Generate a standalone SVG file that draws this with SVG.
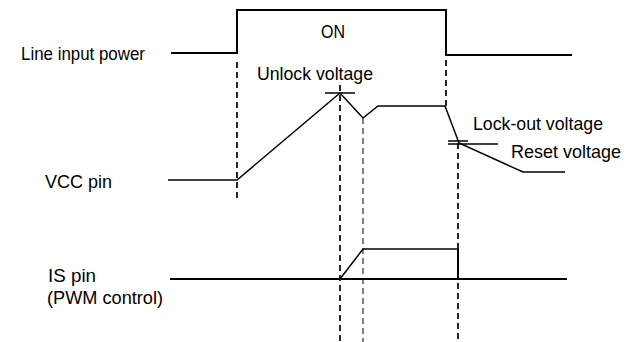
<svg xmlns="http://www.w3.org/2000/svg" width="633" height="342" viewBox="0 0 633 342">
<style>
text{font-family:"Liberation Sans",Arial,sans-serif;font-size:18.5px;fill:#000}
.w{fill:none;stroke:#000;stroke-width:2;stroke-linejoin:miter}
.t{fill:none;stroke:#000;stroke-width:1.5}
.d{fill:none;stroke:#000;stroke-width:1.7;stroke-dasharray:6 4}
.dt{fill:none;stroke:#000;stroke-width:1;stroke-dasharray:6 4}
</style>
<rect width="633" height="342" fill="#fff"/>
<g id="labels">
<text x="21" y="60" textLength="124" lengthAdjust="spacingAndGlyphs">Line input power</text>
<text x="45" y="188" textLength="67" lengthAdjust="spacingAndGlyphs">VCC pin</text>
<text x="48" y="282" textLength="48" lengthAdjust="spacingAndGlyphs">IS pin</text>
<text x="47" y="304" textLength="116" lengthAdjust="spacingAndGlyphs">(PWM control)</text>
<text x="321" y="38" textLength="24" lengthAdjust="spacingAndGlyphs">ON</text>
<text x="257" y="80" textLength="116" lengthAdjust="spacingAndGlyphs">Unlock voltage</text>
<text x="473" y="130" textLength="130" lengthAdjust="spacingAndGlyphs">Lock-out voltage</text>
<text x="511" y="158" textLength="110" lengthAdjust="spacingAndGlyphs">Reset voltage</text>
</g>
<g id="connectors">
<polyline id="line-input" class="w" points="171,53 237,53 237,10 446,10 446,55 572,55"/>
<polyline id="vcc" class="t" points="168,180 237,180 340,93 363,118 378,106 445,106 459,143 523,172 565,172"/>
<line class="t" x1="325" y1="93" x2="355" y2="93"/>
<line class="t" x1="448" y1="141" x2="468" y2="141"/>
<line class="t" x1="448" y1="144" x2="498" y2="144"/>
<line class="w" x1="170" y1="279" x2="567" y2="279"/>
<polyline id="is" class="t" points="340,279 363,249 458,249"/>
<line class="w" x1="458" y1="249" x2="458" y2="279"/>
<line class="d" x1="237" y1="62" x2="237" y2="198"/>
<line class="d" x1="446" y1="60" x2="446" y2="106"/>
<line class="d" x1="340" y1="85" x2="340" y2="342"/>
<line class="dt" x1="363" y1="118" x2="363" y2="342"/>
<line class="d" x1="458" y1="143" x2="458" y2="342"/>
</g>
</svg>
